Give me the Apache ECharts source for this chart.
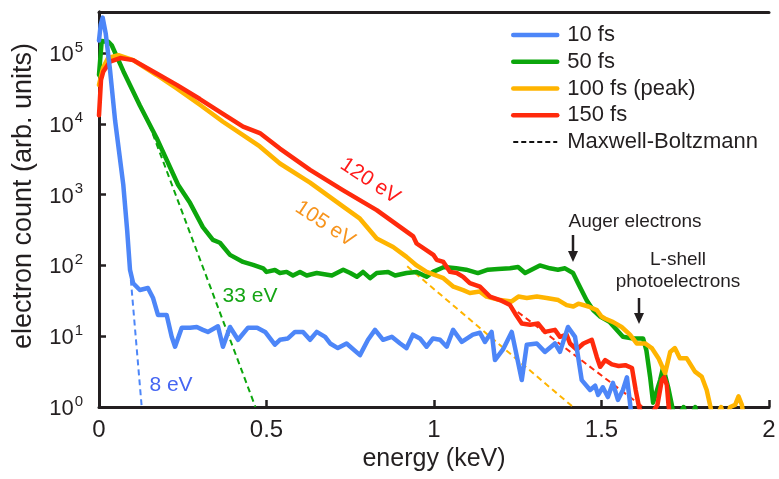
<!DOCTYPE html>
<html>
<head>
<meta charset="utf-8">
<script src="https://cdn.jsdelivr.net/npm/echarts@6/dist/echarts.min.js"></script>
<style>
html,body{margin:0;padding:0;background:#fff;}
#chart{width:779px;height:479px;}
</style>
</head>
<body>
<div id="chart"></div>
<script>
// ---- data (energy in keV, electron count in arb. units) ----
var seriesNames = ['10 fs', '50 fs', '100 fs (peak)', '150 fs', 'Maxwell-Boltzmann'];
var xTicks = [0, 0.5, 1, 1.5, 2];
var yTickExps = [0, 1, 2, 3, 4, 5];

var blueX = [0, 0.005, 0.011, 0.02, 0.033, 0.048, 0.0725, 0.084, 0.0925, 0.102, 0.122, 0.146, 0.161, 0.176, 0.202, 0.217, 0.227, 0.247, 0.272, 0.292, 0.310, 0.325, 0.355, 0.370, 0.391, 0.415, 0.445, 0.472, 0.496, 0.525, 0.540, 0.564, 0.585, 0.609, 0.630, 0.650, 0.675, 0.690, 0.713, 0.739, 0.779, 0.803, 0.824, 0.848, 0.874, 0.899, 0.918, 0.937, 0.958, 0.978, 0.997, 1.018, 1.038, 1.057, 1.083, 1.116, 1.137, 1.152, 1.172, 1.182, 1.206, 1.232, 1.262, 1.277, 1.307, 1.331, 1.361, 1.376, 1.400, 1.421, 1.441, 1.466, 1.481, 1.490, 1.504, 1.519, 1.534, 1.549, 1.564, 1.576, 1.585, 1.590];
var blueY = [150000, 250000, 316000, 190000, 57000, 11200, 1380, 316, 87, 56, 45, 48, 35, 20, 20, 9.8, 7.1, 13.2, 13.2, 13.5, 12.3, 11.5, 13.8, 7.1, 13.5, 8.9, 13.2, 13.2, 11.5, 7.6, 8.9, 9.3, 11.5, 11.5, 8.9, 11.5, 9.8, 7.9, 6.8, 7.9, 5.4, 8.9, 12.3, 8.9, 9.8, 7.9, 6.8, 10.5, 9.3, 7.1, 9.3, 8.9, 7.1, 12.3, 8.3, 10.5, 11.2, 8.3, 11.5, 4.6, 6.5, 11.5, 2.4, 7.6, 7.9, 6.0, 7.9, 6.0, 13.5, 9.8, 2.4, 1.74, 2.0, 1.48, 1.9, 1.38, 2.19, 1.26, 1.74, 2.63, 1.15, 0.7];

var greenX = [0, 0.008, 0.028, 0.038, 0.073, 0.122, 0.172, 0.236, 0.272, 0.310, 0.340, 0.361, 0.391, 0.430, 0.460, 0.490, 0.500, 0.525, 0.540, 0.560, 0.579, 0.600, 0.620, 0.650, 0.695, 0.729, 0.750, 0.770, 0.788, 0.809, 0.829, 0.863, 0.884, 0.918, 0.948, 0.978, 0.997, 1.030, 1.066, 1.096, 1.131, 1.161, 1.191, 1.227, 1.251, 1.272, 1.316, 1.346, 1.370, 1.391, 1.415, 1.430, 1.456, 1.475, 1.496, 1.525, 1.564, 1.594, 1.624, 1.634, 1.645, 1.654, 1.675, 1.684, 1.699, 1.710, 1.720, 1.745, 1.760, 1.780, 1.790];
var greenY = [49000, 148000, 144500, 128800, 55000, 18200, 6310, 1380, 759, 347, 229, 209, 141, 112, 102, 91, 81, 86, 78, 81, 72, 81, 72, 78, 72, 87, 78, 69, 81, 66, 78, 81, 72, 78, 81, 69, 81, 95, 91, 87, 78, 87, 89, 91, 95, 78, 100, 91, 87, 91, 78, 56, 32, 23.4, 19, 15.8, 9.8, 9.3, 9.3, 6.3, 2.69, 1.15, 2.4, 3.6, 1.9, 1.07, 0.6, 1.0, 0.6, 1.0, 0.5];

var yellowX = [0, 0.012, 0.027, 0.058, 0.102, 0.172, 0.232, 0.301, 0.370, 0.430, 0.480, 0.540, 0.630, 0.729, 0.779, 0.829, 0.878, 0.918, 0.948, 0.978, 1.018, 1.028, 1.058, 1.087, 1.107, 1.137, 1.157, 1.197, 1.232, 1.252, 1.277, 1.307, 1.336, 1.371, 1.396, 1.416, 1.431, 1.461, 1.486, 1.500, 1.510, 1.535, 1.560, 1.585, 1.605, 1.630, 1.650, 1.670, 1.690, 1.705, 1.719, 1.734, 1.754, 1.779, 1.799, 1.814, 1.824, 1.835, 1.857, 1.870, 1.884, 1.899, 1.909, 1.919, 1.930];
var yellowY = [35500, 61700, 85000, 93300, 79400, 49000, 31600, 18600, 10700, 6900, 4790, 2750, 1480, 676, 457, 240, 182, 132, 100, 81, 69, 66, 50, 44.7, 40.7, 42.7, 36.3, 32.4, 31, 36.3, 34.7, 36.3, 34.7, 32.4, 27.5, 26.3, 28.8, 26.3, 23.4, 19, 17.8, 15.8, 13.5, 10.5, 7.9, 7.9, 6.8, 4.9, 3.0, 6.0, 6.8, 4.9, 4.9, 3.16, 2.69, 1.74, 1.07, 0.6, 1.0, 0.6, 1.0, 1.07, 1.41, 1.07, 0.5];

var redX = [0, 0.006, 0.013, 0.033, 0.063, 0.102, 0.172, 0.232, 0.301, 0.370, 0.430, 0.480, 0.540, 0.630, 0.729, 0.829, 0.938, 0.948, 0.998, 1.008, 1.028, 1.048, 1.068, 1.087, 1.107, 1.137, 1.167, 1.197, 1.227, 1.242, 1.262, 1.287, 1.311, 1.331, 1.361, 1.376, 1.396, 1.406, 1.426, 1.446, 1.471, 1.486, 1.496, 1.511, 1.531, 1.551, 1.571, 1.591, 1.602, 1.612, 1.620, 1.650, 1.667, 1.680, 1.687, 1.695, 1.700, 1.710];
var redY = [13200, 41700, 55000, 75900, 85100, 79400, 51300, 35500, 22400, 13800, 9120, 7410, 4470, 2240, 1150, 603, 257, 204, 141, 120, 112, 81, 78, 69, 56, 50, 36.3, 32.4, 27.5, 21, 15.1, 14.5, 15.1, 11.5, 12.3, 9.8, 10.5, 7.9, 6.5, 7.9, 8.9, 5.1, 3.7, 4.6, 4.0, 3.8, 3.9, 3.55, 1.74, 1.0, 0.8, 0.8, 1.07, 2.4, 2.63, 2.04, 1.07, 0.5];

// Maxwell-Boltzmann fits (straight lines on the log axis): start/end points
var mbBlueX = [0.0925, 0.1275];   var mbBlueY = [87, 1];
var mbGreenX = [0.15, 0.467];     var mbGreenY = [9800, 1];
var mbYellowX = [0.92, 1.415];    var mbYellowY = [97, 1];
var mbRedX = [1.25, 1.624];       var mbRedY = [22, 1];

// ---- styles ----
var C = { blue: '#4d86f8', green: '#0ca60c', yellow: '#ffb400', red: '#ff2a0c', ink: '#231f20' };
var FONT = '"Liberation Sans", Arial, Helvetica, sans-serif';

function pairs(xs, ys) { return xs.map(function (x, i) { return [x, ys[i]]; }); }

function solid(name, color, xs, ys, z) {
  return { name: name, type: 'line', data: pairs(xs, ys), symbol: 'none', smooth: false, clip: true, z: z,
    lineStyle: { color: color, width: 4.5, join: 'round', cap: 'round' }, itemStyle: { color: color }, animation: false };
}
function dashed(color, xs, ys) {
  return { name: 'mb_' + color, type: 'line', data: pairs(xs, ys), symbol: 'none', clip: true, z: 1,
    lineStyle: { color: color, width: 2, type: [6, 4] }, itemStyle: { color: color }, animation: false, silent: true };
}

var chart = echarts.init(document.getElementById('chart'), null, { renderer: 'canvas' });

var legendData = seriesNames.map(function (n, i) {
  return { name: n, lineStyle: { width: i < 4 ? 4.5 : 2 } };
});

var option = {
  animation: false,
  backgroundColor: '#fff',
  textStyle: { fontFamily: FONT },
  grid: { left: 99, right: 10, top: 12, bottom: 72, containLabel: false },
  legend: {
    orient: 'vertical', left: 506, top: 19,
    data: legendData,
    itemWidth: 44, itemHeight: 14, itemGap: 4.75,
    itemStyle: { opacity: 0, borderWidth: 0 },
    textStyle: { fontFamily: FONT, fontSize: 22, color: C.ink, lineHeight: 22, padding: [0, 0, 0, 5] },
    selectedMode: false
  },
  xAxis: [{
    type: 'value', min: 0, max: 2, interval: 0.5,
    axisLine: { lineStyle: { color: C.ink, width: 3 } },
    axisTick: { inside: true, length: 7, lineStyle: { color: C.ink, width: 2.5 } },
    axisLabel: { fontFamily: FONT, fontSize: 24, color: C.ink, margin: 11,
      formatter: function (v) { return String(v); } },
    splitLine: { show: false },
    name: 'energy (keV)', nameLocation: 'middle', nameGap: 37,
    nameTextStyle: { fontFamily: FONT, fontSize: 25, color: C.ink }
  }, {
    type: 'value', min: 0, max: 2, position: 'top',
    axisLine: { show: true, lineStyle: { color: C.ink, width: 3 } },
    axisTick: { show: false }, axisLabel: { show: false }, splitLine: { show: false }
  }],
  yAxis: [{
    type: 'log', logBase: 10, min: 1, max: 380000,
    axisLine: { show: true, lineStyle: { color: C.ink, width: 3 } },
    axisTick: { show: true, inside: true, length: 7, lineStyle: { color: C.ink, width: 2.5 } },
    axisLabel: {
      showMaxLabel: false, margin: 16, color: C.ink,
      formatter: function (v) {
        var e = Math.round(Math.log(v) / Math.LN10);
        if (Math.abs(Math.pow(10, e) - v) / v > 1e-6) return '';
        return '{b|10}{s|' + e + '}';
      },
      rich: {
        b: { fontFamily: FONT, fontSize: 22, color: C.ink, lineHeight: 26, verticalAlign: 'bottom' },
        s: { fontFamily: FONT, fontSize: 15, color: C.ink, lineHeight: 26, verticalAlign: 'top', padding: [0, 0, 0, 1] }
      }
    },
    splitLine: { show: false }
  }, {
    type: 'log', logBase: 10, min: 1, max: 380000, position: 'right',
    axisLine: { show: true, lineStyle: { color: C.ink, width: 3 } },
    axisTick: { show: false }, axisLabel: { show: false }, splitLine: { show: false }
  }],
  series: [
    dashed(C.blue, mbBlueX, mbBlueY),
    dashed(C.green, mbGreenX, mbGreenY),
    dashed(C.yellow, mbYellowX, mbYellowY),
    dashed(C.red, mbRedX, mbRedY),
    solid('50 fs', C.green, greenX, greenY, 3),
    solid('100 fs (peak)', C.yellow, yellowX, yellowY, 4),
    solid('150 fs', C.red, redX, redY, 5),
    solid('10 fs', C.blue, blueX, blueY, 6),
    { name: 'Maxwell-Boltzmann', type: 'line', data: [], symbol: 'none',
      lineStyle: { color: '#111', width: 2, type: [5, 3] }, itemStyle: { color: '#111' } }
  ],
  graphic: [
    { type: 'text', x: 24, y: 196, rotation: Math.PI / 2,
      style: { text: 'electron count (arb. units)', font: '27px ' + FONT, fill: C.ink, align: 'center', verticalAlign: 'middle' } },
    { type: 'text', x: 171, y: 385,
      style: { text: '8 eV', font: '21px ' + FONT, fill: '#4565f2', align: 'center', verticalAlign: 'middle' } },
    { type: 'text', x: 250, y: 296,
      style: { text: '33 eV', font: '21px ' + FONT, fill: '#15a515', align: 'center', verticalAlign: 'middle' } },
    { type: 'text', x: 325, y: 224, rotation: -0.58,
      style: { text: '105 eV', font: '21px ' + FONT, fill: '#f7941d', align: 'center', verticalAlign: 'middle' } },
    { type: 'text', x: 370, y: 181, rotation: -0.58,
      style: { text: '120 eV', font: '21px ' + FONT, fill: '#ff1a1a', align: 'center', verticalAlign: 'middle' } },
    { type: 'text', x: 635, y: 222,
      style: { text: 'Auger electrons', font: '19px ' + FONT, fill: C.ink, align: 'center', verticalAlign: 'middle' } },
    { type: 'text', x: 678, y: 260,
      style: { text: 'L-shell', font: '19px ' + FONT, fill: C.ink, align: 'center', verticalAlign: 'middle' } },
    { type: 'text', x: 678, y: 282,
      style: { text: 'photoelectrons', font: '19px ' + FONT, fill: C.ink, align: 'center', verticalAlign: 'middle' } },
    { type: 'line', shape: { x1: 573, y1: 235, x2: 573, y2: 254 }, style: { stroke: C.ink, lineWidth: 2.5 } },
    { type: 'polygon', shape: { points: [[568, 251], [578, 251], [573, 262]] }, style: { fill: C.ink } },
    { type: 'line', shape: { x1: 639, y1: 298, x2: 639, y2: 316 }, style: { stroke: C.ink, lineWidth: 2.5 } },
    { type: 'polygon', shape: { points: [[634, 313], [644, 313], [639, 324]] }, style: { fill: C.ink } }
  ]
};
chart.setOption(option);
</script>
</body>
</html>
